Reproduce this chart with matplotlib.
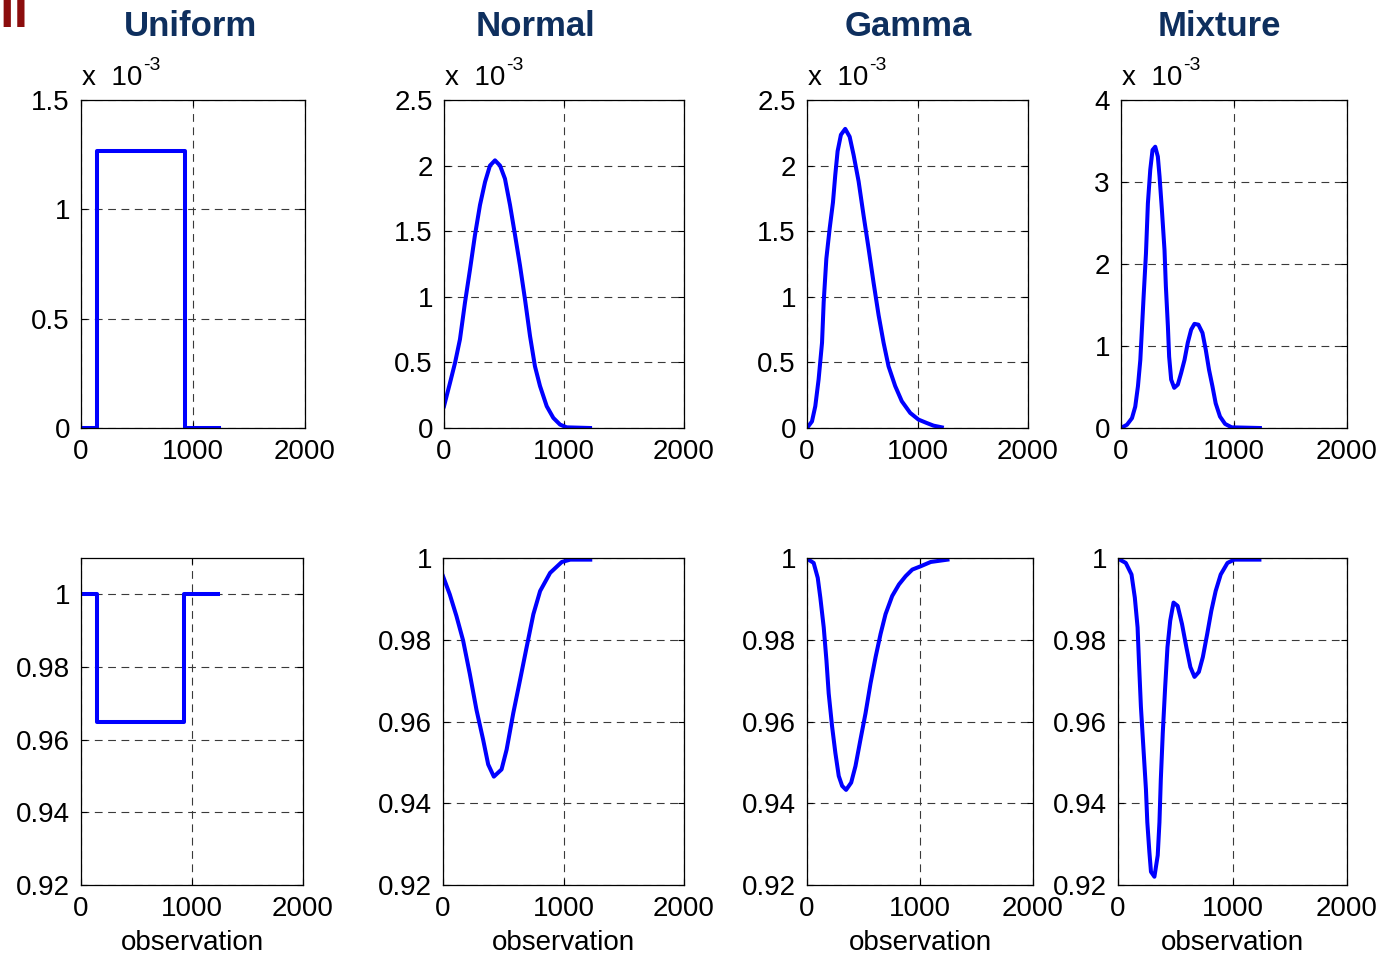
import numpy as np
import matplotlib.pyplot as plt
from matplotlib.transforms import offset_copy

plt.rcParams['font.family'] = ['Liberation Sans', 'DejaVu Sans']

# density estimates (units of 1e-3) against observation
uni_x = [0, 140, 140, 930, 930, 1230]
uni_pdf = [0, 0, 1.266, 1.266, 0, 0]

norm_x = [0, 50, 92, 133, 175, 217, 258, 300, 342, 383, 425, 467, 508, 550,
          592, 633, 675, 717, 758, 800, 856, 911, 967, 1022, 1217]
norm_pdf = [0.166, 0.344, 0.497, 0.676, 0.957, 1.21, 1.47, 1.70, 1.875, 2.00,
            2.04, 2.00, 1.90, 1.70, 1.47, 1.24, 0.98, 0.70, 0.47, 0.32, 0.166,
            0.077, 0.026, 0.005, 0.0]

gam_x = [0, 45, 75, 105, 136, 151, 175, 205, 235, 256, 277, 307, 346, 386,
         422, 467, 512, 557, 602, 648, 693, 738, 798, 858, 934, 1009, 1084,
         1145, 1220]
gam_pdf = [0.0, 0.05, 0.166, 0.37, 0.65, 0.96, 1.29, 1.52, 1.72, 1.93, 2.11,
           2.235, 2.28, 2.22, 2.08, 1.88, 1.62, 1.37, 1.11, 0.86, 0.65, 0.47,
           0.32, 0.204, 0.115, 0.064, 0.038, 0.018, 0.005]

mix_x = [0, 53, 97, 126, 150, 171, 185, 200, 221, 238, 259, 279, 303, 326,
         341, 362, 385, 397, 415, 426, 444, 471, 503, 532, 562, 591, 621, 650,
         685, 721, 750, 779, 809, 838, 876, 921, 979, 1229]
mix_pdf = [0.0, 0.04, 0.12, 0.26, 0.51, 0.83, 1.2, 1.6, 2.13, 2.74, 3.15,
           3.39, 3.43, 3.31, 3.07, 2.66, 2.17, 1.73, 1.24, 0.87, 0.59, 0.49,
           0.53, 0.67, 0.83, 1.04, 1.20, 1.27, 1.26, 1.16, 0.955, 0.71, 0.51,
           0.30, 0.14, 0.05, 0.008, 0.0]

# second row: curves near one
uni_w = [1, 1, 0.9648, 0.9648, 1, 1]

norm_wx = [0, 56, 111, 167, 222, 278, 333, 375, 422, 486, 528, 583, 639, 694,
           750, 806, 889, 986, 1056, 1222]
norm_w = [0.99556, 0.99111, 0.98586, 0.97980, 0.97172, 0.96283, 0.95556,
          0.94949, 0.94651, 0.94828, 0.95313, 0.96202, 0.97010, 0.97818,
          0.98626, 0.99192, 0.99636, 0.99903, 0.99960, 0.99960]

gam_wx = [0, 59, 95, 118, 148, 172, 192, 222, 251, 281, 311, 346, 391, 429,
          473, 518, 562, 607, 651, 695, 754, 814, 873, 932, 1006, 1095, 1243]
gam_w = [0.99984, 0.99879, 0.99515, 0.99030, 0.98303, 0.97495, 0.96687,
         0.95879, 0.95232, 0.94667, 0.94424, 0.94327, 0.94505, 0.94909,
         0.95556, 0.96202, 0.96929, 0.97576, 0.98141, 0.98626, 0.99071,
         0.99354, 0.99556, 0.99717, 0.99798, 0.99903, 0.99960]

mix_wx = [0, 68, 118, 147, 171, 185, 200, 221, 244, 256, 274, 288, 318, 347,
          362, 374, 391, 412, 432, 456, 485, 521, 559, 597, 632, 668, 706,
          741, 779, 815, 853, 897, 956, 1015, 1235]
mix_w = [0.99984, 0.99879, 0.99596, 0.99030, 0.98303, 0.97333, 0.96364,
         0.95394, 0.94343, 0.93535, 0.92808, 0.92323, 0.92202, 0.92727,
         0.93535, 0.94586, 0.95717, 0.96848, 0.97818, 0.98465, 0.98909,
         0.98828, 0.98384, 0.97818, 0.97333, 0.97091, 0.97212, 0.97576,
         0.98141, 0.98707, 0.99192, 0.99596, 0.99879, 0.99960, 0.99960]

titles = ['Uniform', 'Normal', 'Gamma', 'Mixture']
title_x = [191, 536, 908, 1219]

top_data = [(uni_x, uni_pdf), (norm_x, norm_pdf), (gam_x, gam_pdf), (mix_x, mix_pdf)]
top_yticks = [[0, 0.5, 1, 1.5], [0, 0.5, 1, 1.5, 2, 2.5],
              [0, 0.5, 1, 1.5, 2, 2.5], [0, 1, 2, 3, 4]]
top_ylabels = [['0', '0.5', '1', '1.5'],
               ['0', '0.5', '1', '1.5', '2', '2.5'],
               ['0', '0.5', '1', '1.5', '2', '2.5'],
               ['0', '1', '2', '3', '4']]

bot_data = [(uni_x, uni_w), (norm_wx, norm_w), (gam_wx, gam_w), (mix_wx, mix_w)]
bot_ylim = [(0.92, 1.01), (0.92, 1.0), (0.92, 1.0), (0.92, 1.0)]
bot_yticks = [0.92, 0.94, 0.96, 0.98, 1.0]
bot_ylabels = ['0.92', '0.94', '0.96', '0.98', '1']

W, H = 1382, 957
top_cols = [(81, 305), (444, 684), (807, 1028), (1121, 1347)]
bot_cols = [(81, 303), (443, 684), (807, 1033), (1118, 1347)]
top_rows = (100, 428)
bot_rows = (558, 885)

fig = plt.figure(figsize=(W / 100, H / 100), dpi=100)


def make_axes(col, row):
    l, r = col
    t, b = row
    return fig.add_axes([l / W, 1 - b / H, (r - l) / W, (b - t) / H])


def style(ax):
    ax.set_xlim(0, 2000)
    ax.set_xticks([0, 1000, 2000])
    ax.set_xticklabels(['0', '1000', '2000'])
    ax.grid(True, color='#3a3a3a', linewidth=0.8, linestyle=(0, (7, 5)))
    ax.tick_params(direction='in', length=4, width=0.8, top=True, right=True,
                   labelsize=20, pad=8)
    for s in ax.spines.values():
        s.set_linewidth(0.9)
        s.set_color('black')


for i in range(4):
    ax = make_axes(top_cols[i], top_rows)
    x, y = top_data[i]
    ax.plot(x, y, color='#0000ff', linewidth=2.9)
    style(ax)
    ax.set_ylim(top_yticks[i][0], top_yticks[i][-1])
    ax.set_yticks(top_yticks[i])
    ax.set_yticklabels(top_ylabels[i])
    # exponent label above the y axis
    ax.text(0.0, 1.0, 'x  10', ha='left', va='baseline', fontsize=20,
            transform=offset_copy(ax.transAxes, fig=fig, x=1, y=15, units='dots'))
    ax.text(0.0, 1.0, '-3', ha='left', va='baseline', fontsize=14,
            transform=offset_copy(ax.transAxes, fig=fig, x=62, y=30, units='dots'))
    fig.text(title_x[i] / W, 1 - 26 / H, titles[i], ha='center', va='center',
             fontsize=25, fontweight='bold', color='#0e2f5e')

    ax = make_axes(bot_cols[i], bot_rows)
    x, y = bot_data[i]
    ax.plot(x, y, color='#0000ff', linewidth=2.9)
    style(ax)
    ax.set_ylim(*bot_ylim[i])
    ax.set_yticks(bot_yticks)
    ax.set_yticklabels(bot_ylabels)
    ax.set_xlabel('observation', fontsize=20, labelpad=6)

# clipped heading letters at the top-left corner
fig.text(-1 / W, 1 - 27 / H, 'll', ha='left', va='baseline', fontsize=38,
         fontweight='bold', color='#8b0d0d')

fig.savefig('out.png', dpi=100)
